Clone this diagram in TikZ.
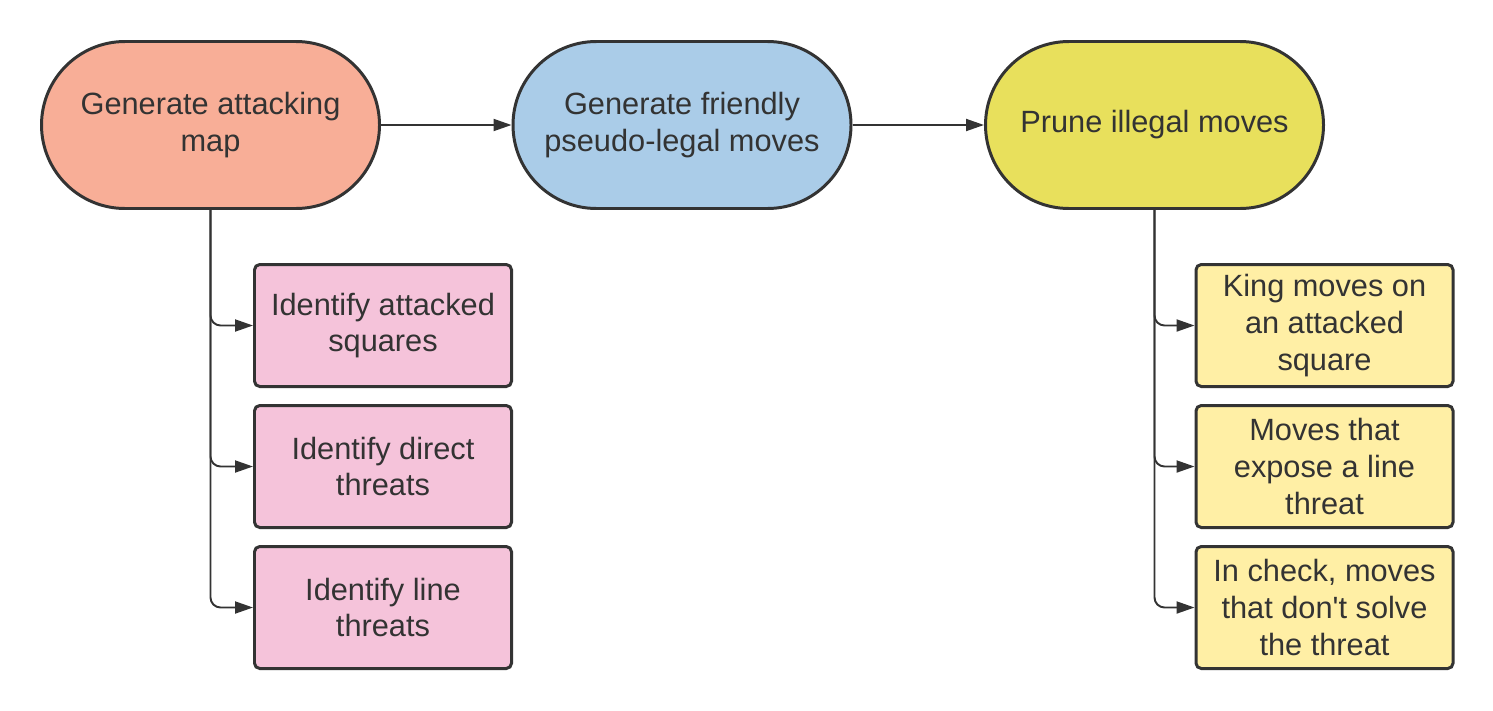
\documentclass[tikz,border=0pt]{standalone}
\usepackage{fontspec}
\setmainfont{Liberation Sans}
\usetikzlibrary{arrows.meta, positioning}
\definecolor{linegrey}{HTML}{333333}
\definecolor{salmon}{HTML}{F8AE97}
\definecolor{skyblue}{HTML}{AACCE8}
\definecolor{mustard}{HTML}{E8E05C}
\definecolor{softpink}{HTML}{F5C3DA}
\definecolor{paleyellow}{HTML}{FFEFA5}

\tikzset{
    stage/.style={rectangle, rounded corners=1.67cm, draw=linegrey, line width=1.7pt,
        minimum width=6.76cm, minimum height=3.34cm, inner sep=2pt, align=center,
        font=\fontsize{17.5}{21}\selectfont, text=linegrey},
    check/.style={rectangle, rounded corners=3pt, draw=linegrey, line width=1.7pt,
        minimum width=5.14cm, minimum height=2.44cm, inner sep=2pt, align=center,
        font=\fontsize{17.5}{21}\selectfont, text=linegrey},
    flow/.style={-{Triangle[length=0.36cm, width=0.24cm]}, line width=1.1pt, linegrey},
    branch/.style={flow, rounded corners=0.2cm}
}

\begin{document}
\begin{tikzpicture}
    \useasboundingbox (0,0) rectangle (29.86,-14.2);

    % Main stages
    \node (attack) [stage, fill=salmon] at (4.21,-2.5) {Generate attacking\\map};
    \node (pseudo) [stage, fill=skyblue] at (13.64,-2.5) {Generate friendly\\pseudo-legal moves};
    \node (prune) [stage, fill=mustard] at (23.09,-2.5) {Prune illegal moves};

    % Attacking map steps
    \node (squares) [check, fill=softpink] at (7.66,-6.51) {Identify attacked\\squares};
    \node (direct) [check, fill=softpink] at (7.66,-9.33) {Identify direct\\threats};
    \node (lines) [check, fill=softpink] at (7.66,-12.15) {Identify line\\threats};

    % Illegal move cases
    \node (king) [check, fill=paleyellow] at (26.49,-6.51) {King moves on\\an attacked\\square};
    \node (expose) [check, fill=paleyellow] at (26.49,-9.33) {Moves that\\expose a line\\threat};
    \node (incheck) [check, fill=paleyellow] at (26.49,-12.15) {In check, moves\\that don\textquotesingle t solve\\the threat};

    % Arrows
    \draw[flow] (attack) -- (pseudo);
    \draw[flow] (pseudo) -- (prune);
    \draw[branch] (attack.south) |- (squares.west);
    \draw[branch] (attack.south) |- (direct.west);
    \draw[branch] (attack.south) |- (lines.west);
    \draw[branch] (prune.south) |- (king.west);
    \draw[branch] (prune.south) |- (expose.west);
    \draw[branch] (prune.south) |- (incheck.west);
\end{tikzpicture}
\end{document}
